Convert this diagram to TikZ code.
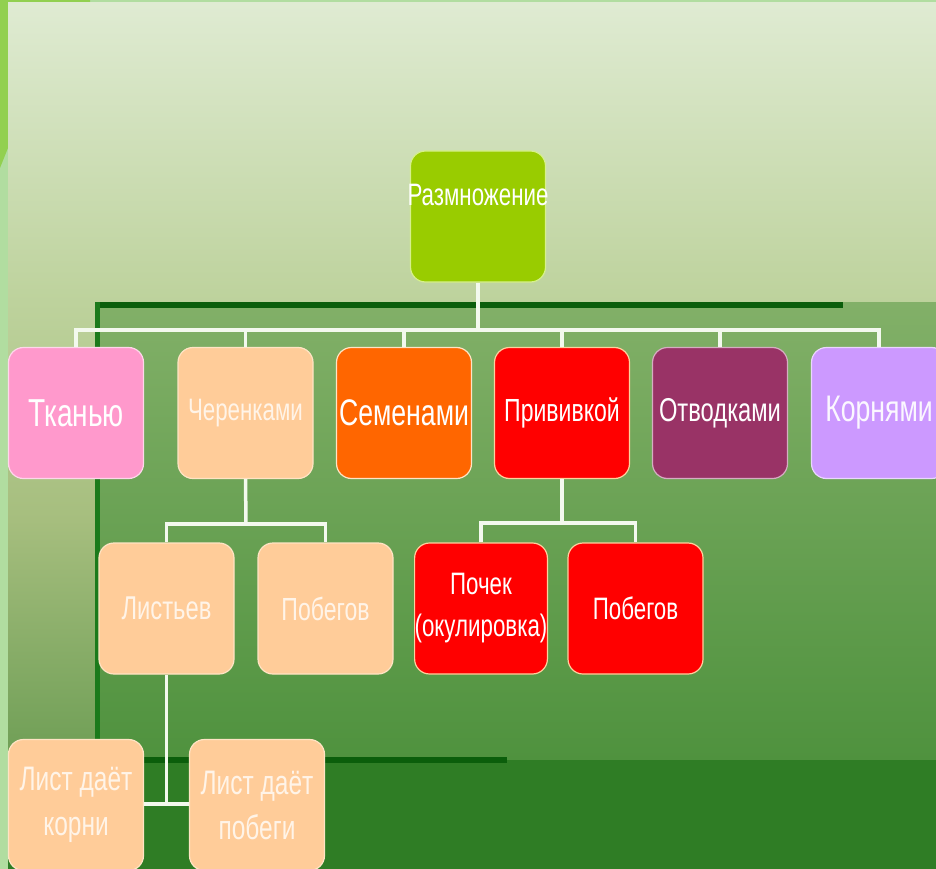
\documentclass[tikz,border=0pt]{standalone}
\usepackage{fontspec}
\setmainfont{Liberation Sans}[FakeStretch=0.72]
\definecolor{brightG}{HTML}{92D050}
\definecolor{lightG}{HTML}{B1DDA0}
\definecolor{panTop}{HTML}{DFEBD2}
\definecolor{panMid}{HTML}{BDD29C}
\definecolor{leftMid}{HTML}{A6BE7E}
\definecolor{leftBot}{HTML}{6E9E55}
\definecolor{inTop}{HTML}{82B068}
\definecolor{inBot}{HTML}{4F923E}
\definecolor{lowG}{HTML}{2F7D25}
\definecolor{dkLine}{HTML}{0B5E0B}
\definecolor{dkLineB}{HTML}{1B7A1B}
\definecolor{lineW}{HTML}{F3F9EE}
\definecolor{cRoot}{HTML}{99CC00}
\definecolor{cTk}{HTML}{FF99CC}
\definecolor{cPeach}{HTML}{FFCC99}
\definecolor{cSem}{HTML}{FF6600}
\definecolor{cRed}{HTML}{FF0000}
\definecolor{cOtv}{HTML}{993366}
\definecolor{cKor}{HTML}{CC99FF}
\definecolor{bordC}{HTML}{FFE4C4}
\definecolor{bordRoot}{HTML}{D6F08C}
\definecolor{peachTxt}{HTML}{FFF4E8}
\begin{document}
\begin{tikzpicture}[x=1pt,y=-1pt,
  conn/.style={draw=lineW, line width=3.5pt, line join=miter},
  box/.style={rectangle, rounded corners=15pt, draw=bordC, line width=1.2pt,
    minimum width=135pt, minimum height=131pt, inner sep=0pt, align=center, text=white},
  peach/.style={box, fill=cPeach, text=peachTxt},
  redbox/.style={box, fill=cRed, draw=bordC!80!orange},
  fs/.style={font=\fontsize{#1}{44}\selectfont}]
\clip (0,0) rectangle (936,869);
% background
\fill[lightG] (0,0) rectangle (936,869);
\fill[brightG] (0,0) -- (90,0) -- (90,3) -- (8,3) -- (8,148) -- (0,168) -- cycle;
\shade[top color=panTop, bottom color=panMid] (8,3) rectangle (936,302);
\shade[top color=panMid, bottom color=leftMid] (8,302) rectangle (95,520);
\shade[top color=leftMid, bottom color=leftBot] (8,520) rectangle (95,760);
\shade[top color=inTop, bottom color=inBot] (95,302) rectangle (936,760);
\fill[lowG] (8,760) rectangle (936,869);
\fill[dkLine] (95,302) rectangle (843,308);
\fill[dkLineB] (95,302) rectangle (100,760);
\fill[dkLine] (100,757) rectangle (507,763);
% nodes
\node[box, fill=cRoot, draw=bordRoot] (root) at (478,216.5) {};
\node[fs=31, text=white] (roottxt) at (478,195) {Размножение};
\node[box, fill=cTk, draw=cTk!40!white, fs=39] (tk) at (76,413) {Тканью};
\node[peach, fs=31] (ch) at (245.5,413) {Черенками};
\node[box, fill=cSem, fs=37] (sem) at (404,413) {Семенами};
\node[redbox, fs=32] (pr) at (562,413) {Прививкой};
\node[box, fill=cOtv, draw=cOtv!40!white, fs=33] (otv) at (720,413) {Отводками};
\node[box, fill=cKor, draw=cKor!40!white, text=white!92!cKor, fs=37] (kor) at (879,413) {Корнями};
\node[peach, fs=33] (li) at (166.5,608.5) {Листьев};
\node[peach, fs=32] (pb) at (325.5,608.5) {Побегов};
\node[redbox, minimum width=132pt, font=\fontsize{31}{42}\selectfont] (po) at (481,608.5) {Почек\\(окулировка)};
\node[redbox, fs=31] (pb2) at (635.5,608.5) {Побегов};
\node[peach, font=\fontsize{34}{45}\selectfont] (lk) at (76,805) {Лист даёт\\корни};
\node[peach, font=\fontsize{34}{45}\selectfont] (lp) at (257,805) {Лист даёт\\побеги};
% connectors
\coordinate (busA) at (478,330);
\coordinate (busB) at (246,524);
\coordinate (busC) at (562,523);
\coordinate (busD) at (166.5,804);
\draw[conn] (root.south) -- (busA);
\draw[conn] (tk.north) -- (tk.north |- busA) -- (kor.north |- busA) -- (kor.north);
\draw[conn] (ch.north) -- (ch.north |- busA);
\draw[conn] (sem.north) -- (sem.north |- busA);
\draw[conn] (pr.north) -- (pr.north |- busA);
\draw[conn] (otv.north) -- (otv.north |- busA);
\draw[conn] (ch.south) -- (busB);
\draw[conn] (li.north) -- (li.north |- busB) -- (pb.north |- busB) -- (pb.north);
\draw[conn] (pr.south) -- (busC);
\draw[conn] (po.north) -- (po.north |- busC) -- (pb2.north |- busC) -- (pb2.north);
\draw[conn] (li.south) -- (busD);
\draw[conn] (lk.east |- busD) -- (lp.west |- busD);
\end{tikzpicture}
\end{document}
